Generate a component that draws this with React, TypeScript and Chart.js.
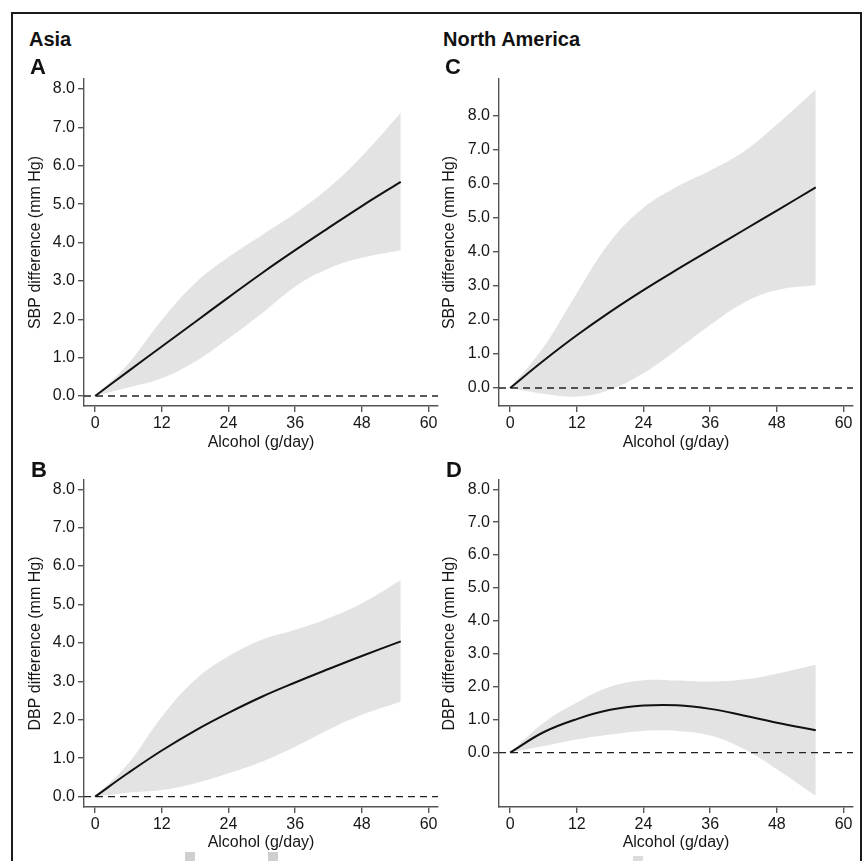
import React, { useEffect, useRef } from "react";
import { Chart, registerables } from "chart.js";

Chart.register(...registerables);

// ---------- data ----------
const xGrid = [0, 6, 12, 18, 24, 30, 36, 42, 48, 55];

const asiaSbpFit = [0, 0.65, 1.29, 1.93, 2.57, 3.2, 3.8, 4.38, 4.95, 5.58];
const asiaSbpUpper = [0, 0.85, 1.98, 2.94, 3.62, 4.19, 4.76, 5.42, 6.25, 7.38];
const asiaSbpLower = [0, 0.22, 0.46, 0.9, 1.5, 2.15, 2.85, 3.32, 3.6, 3.8];

const asiaDbpFit = [0, 0.62, 1.2, 1.72, 2.18, 2.6, 2.97, 3.32, 3.66, 4.04];
const asiaDbpUpper = [0, 0.87, 2.08, 3.04, 3.65, 4.08, 4.34, 4.64, 5.03, 5.63];
const asiaDbpLower = [0, 0.1, 0.17, 0.35, 0.61, 0.91, 1.3, 1.74, 2.13, 2.47];

const naSbpFit = [0, 0.8, 1.55, 2.24, 2.88, 3.48, 4.06, 4.64, 5.22, 5.9];
const naSbpUpper = [0, 1.2, 2.79, 4.3, 5.3, 5.92, 6.4, 6.95, 7.75, 8.78];
const naSbpLower = [0, -0.17, -0.25, -0.05, 0.44, 1.12, 1.85, 2.5, 2.88, 3.03];

const naDbpFit = [0, 0.62, 1.02, 1.3, 1.43, 1.44, 1.33, 1.13, 0.91, 0.68];
const naDbpUpper = [0, 0.9, 1.52, 2.0, 2.2, 2.19, 2.16, 2.22, 2.4, 2.67];
const naDbpLower = [0, 0.2, 0.4, 0.55, 0.66, 0.66, 0.52, 0.12, -0.5, -1.31];

const xTicks = [0, 12, 24, 36, 48, 60];
const yTicks = [0, 1, 2, 3, 4, 5, 6, 7, 8];
const xRange = [-2, 61.7];

const xTitle = "Alcohol (g/day)";
const sbpTitle = "SBP difference (mm Hg)";
const dbpTitle = "DBP difference (mm Hg)";
const regionNames = ["Asia", "North America"];
const panelLetters = ["A", "B", "C", "D"];

// ---------- rendering ----------
const FONT = "'Liberation Sans', Arial, Helvetica, sans-serif";
const TICK_SIZE = 16;
const TITLE_SIZE = 16;
const AXIS_COLOR = "#555";
const TEXT_COLOR = "#161616";
const BAND_COLOR = "#e3e3e3";

type Box = { l: number; t: number; r: number; b: number };

type PanelProps = {
  cb: Box;
  area: Box;
  yMin: number;
  yMax: number;
  fit: number[];
  upper: number[];
  lower: number[];
  yTitle: string;
  yTitleX: number;
  xTitleY: number;
};

const pts = (ys: number[]) => xGrid.map((x, i) => ({ x, y: ys[i] }));

function Panel(p: PanelProps) {
  const ref = useRef<HTMLCanvasElement | null>(null);
  useEffect(() => {
    if (!ref.current) return;
    const { cb, area } = p;
    const lh = TITLE_SIZE * 1.2;
    const chart = new Chart(ref.current, {
      type: "line",
      data: {
        datasets: [
          {
            data: pts(p.fit),
            borderColor: "#111",
            borderWidth: 2,
            pointRadius: 0,
            fill: false,
            tension: 0.4,
          },
          {
            data: [
              { x: xRange[0], y: 0 },
              { x: xRange[1], y: 0 },
            ],
            borderColor: "#222",
            borderWidth: 1.3,
            borderDash: [7, 5],
            pointRadius: 0,
            fill: false,
          },
          {
            data: pts(p.upper),
            borderColor: "rgba(0,0,0,0)",
            borderWidth: 0,
            backgroundColor: BAND_COLOR,
            pointRadius: 0,
            fill: "+1",
            tension: 0.4,
          },
          {
            data: pts(p.lower),
            borderColor: "rgba(0,0,0,0)",
            borderWidth: 0,
            pointRadius: 0,
            fill: false,
            tension: 0.4,
          },
        ],
      },
      options: {
        animation: false,
        responsive: false,
        maintainAspectRatio: false,
        layout: {
          padding: { left: 0, top: area.t - cb.t, right: cb.r - area.r, bottom: 0 },
        },
        plugins: { legend: { display: false }, tooltip: { enabled: false } },
        scales: {
          x: {
            type: "linear",
            min: xRange[0],
            max: xRange[1],
            afterBuildTicks: (s: any) => {
              s.ticks = xTicks.map((v) => ({ value: v }));
            },
            afterFit: (s: any) => {
              s.height = cb.b - area.b;
            },
            grid: {
              drawOnChartArea: false,
              drawTicks: true,
              tickLength: 6,
              color: AXIS_COLOR,
              lineWidth: 1.4,
            },
            border: { display: true, color: AXIS_COLOR, width: 1.4 },
            ticks: {
              color: TEXT_COLOR,
              font: { family: FONT, size: TICK_SIZE },
              padding: 2,
              maxRotation: 0,
              autoSkip: false,
              callback: (v: any) => String(v),
            },
            title: {
              display: true,
              text: xTitle,
              color: TEXT_COLOR,
              font: { family: FONT, size: TITLE_SIZE },
              padding: { top: 0, bottom: cb.b - p.xTitleY - lh / 2 },
            },
          },
          y: {
            type: "linear",
            min: p.yMin,
            max: p.yMax,
            afterBuildTicks: (s: any) => {
              s.ticks = yTicks.map((v) => ({ value: v }));
            },
            afterFit: (s: any) => {
              s.width = area.l - cb.l;
            },
            grid: {
              drawOnChartArea: false,
              drawTicks: true,
              tickLength: 6,
              color: AXIS_COLOR,
              lineWidth: 1.4,
            },
            border: { display: true, color: AXIS_COLOR, width: 1.4 },
            ticks: {
              color: TEXT_COLOR,
              font: { family: FONT, size: TICK_SIZE },
              padding: 3,
              autoSkip: false,
              callback: (v: any) => Number(v).toFixed(1),
            },
            title: {
              display: true,
              text: p.yTitle,
              color: TEXT_COLOR,
              font: { family: FONT, size: TITLE_SIZE },
              padding: { top: Math.max(0, p.yTitleX - cb.l - lh / 2), bottom: 0 },
            },
          },
        },
      },
    } as any);
    return () => chart.destroy();
  }, []);
  const { cb } = p;
  return (
    <canvas
      ref={ref}
      width={cb.r - cb.l}
      height={cb.b - cb.t}
      style={{
        position: "absolute",
        left: cb.l,
        top: cb.t,
        width: cb.r - cb.l,
        height: cb.b - cb.t,
      }}
    />
  );
}

function Label(props: { text: string; x: number; y: number; size: number }) {
  return (
    <div
      style={{
        position: "absolute",
        left: props.x,
        top: props.y - props.size * 0.488,
        fontFamily: FONT,
        fontWeight: "bold",
        fontSize: props.size,
        lineHeight: "1",
        color: "#111",
        whiteSpace: "nowrap",
      }}
    >
      {props.text}
    </div>
  );
}

export default function App() {
  return (
    <div
      style={{
        position: "fixed",
        left: 0,
        top: 0,
        width: 863,
        height: 861,
        overflow: "hidden",
        background: "#fff",
      }}
    >
      <div
        style={{
          position: "absolute",
          left: 11,
          top: 12,
          width: 851,
          height: 900,
          boxSizing: "border-box",
          borderTop: "2px solid #1b1b1b",
          borderLeft: "2px solid #1b1b1b",
          borderRight: "2px solid #1b1b1b",
        }}
      />
      <Panel
        cb={{ l: 14, t: 60, r: 450, b: 460 }}
        area={{ l: 84, t: 79, r: 438, b: 406 }}
        yMin={-0.26}
        yMax={8.26}
        fit={asiaSbpFit}
        upper={asiaSbpUpper}
        lower={asiaSbpLower}
        yTitle={sbpTitle}
        yTitleX={36}
        xTitleY={443}
      />
      <Panel
        cb={{ l: 14, t: 462, r: 450, b: 860 }}
        area={{ l: 84, t: 480, r: 438, b: 807 }}
        yMin={-0.27}
        yMax={8.24}
        fit={asiaDbpFit}
        upper={asiaDbpUpper}
        lower={asiaDbpLower}
        yTitle={dbpTitle}
        yTitleX={36}
        xTitleY={843}
      />
      <Panel
        cb={{ l: 440, t: 60, r: 860, b: 460 }}
        area={{ l: 499, t: 79, r: 853, b: 406 }}
        yMin={-0.53}
        yMax={9.09}
        fit={naSbpFit}
        upper={naSbpUpper}
        lower={naSbpLower}
        yTitle={sbpTitle}
        yTitleX={450}
        xTitleY={443}
      />
      <Panel
        cb={{ l: 440, t: 462, r: 860, b: 860 }}
        area={{ l: 499, t: 480, r: 853, b: 807 }}
        yMin={-1.65}
        yMax={8.28}
        fit={naDbpFit}
        upper={naDbpUpper}
        lower={naDbpLower}
        yTitle={dbpTitle}
        yTitleX={450}
        xTitleY={843}
      />
      <Label text={regionNames[0]} x={29} y={38.5} size={20} />
      <Label text={regionNames[1]} x={443} y={38.5} size={20} />
      <Label text={panelLetters[0]} x={30} y={67} size={22} />
      <Label text={panelLetters[1]} x={31} y={470} size={22} />
      <Label text={panelLetters[2]} x={445} y={67} size={22} />
      <Label text={panelLetters[3]} x={446} y={470} size={22} />
      <div style={{ position: "absolute", left: 185, top: 852, width: 10, height: 9, background: "#cfcfcf" }} />
      <div style={{ position: "absolute", left: 268, top: 852, width: 10, height: 9, background: "#cfcfcf" }} />
      <div style={{ position: "absolute", left: 633, top: 856, width: 10, height: 5, background: "#dcdcdc" }} />
    </div>
  );
}
